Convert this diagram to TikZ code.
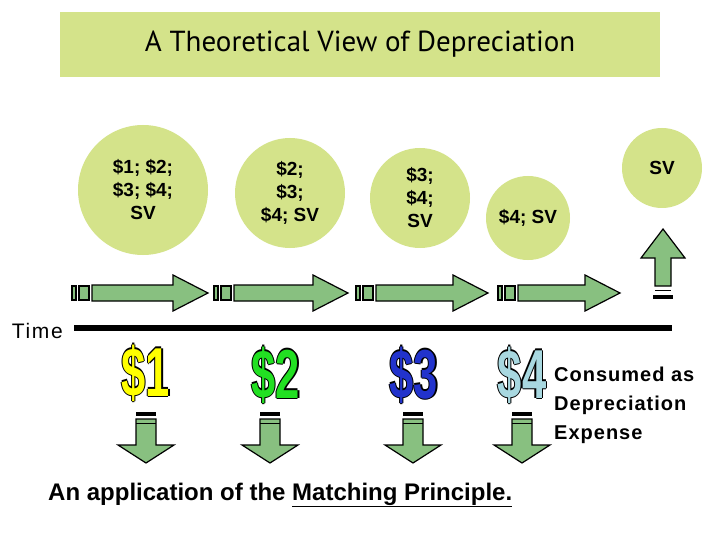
\documentclass[tikz,border=0pt]{standalone}
\usepackage{fontspec}
\setmainfont{Liberation Sans}
\newfontfamily\titlefont{PT Sans}
\definecolor{lime}{HTML}{D4E38A}
\definecolor{arr}{HTML}{88C080}
\definecolor{dyel}{HTML}{FFFF00}
\definecolor{dgrn}{HTML}{22E022}
\definecolor{dblu}{HTML}{2233CC}
\definecolor{dlbl}{HTML}{A8D8E0}
\newcommand\myrarrow[3]{% x0, xend, y
 \draw[arrstyle] (#1,#3-7) rectangle ++(4,14);
 \draw[arrstyle] (#1+7,#3-7) rectangle ++(10,14);
 \draw[arrstyle] (#1+20,#3-8) -- (#2-35,#3-8) -- (#2-35,#3-18) -- (#2,#3) -- (#2-35,#3+18) -- (#2-35,#3+8) -- (#1+20,#3+8) -- cycle;}
\newcommand\mydarrow[1]{% center x
 \fill (#1-10,412) rectangle (#1+10,416);
 \draw[arrstyle] (#1-10,419) -- (#1+10,419) -- (#1+10,445) -- (#1+28,445) -- (#1,463) -- (#1-28,445) -- (#1-10,445) -- cycle;
 \draw[line width=1pt] (#1-10,423)--(#1+10,423);}
\newcommand\mydollar[4]{% x y color text
 \foreach \dx/\dy in {-1.2/0,1.2/0,0/-1.2,0/1.2}
  {\node[dol,text=black] at (#1+\dx,#2+\dy) {#4};}
 \node[dol,text=#3] at (#1,#2) {#4};}
\begin{document}
\begin{tikzpicture}[x=1pt,y=-1pt,
 arrstyle/.style={fill=arr,draw=black,line width=1.2pt},
 circ/.style={circle,fill=lime,inner sep=0pt,align=center,font=\bfseries\fontsize{19}{23}\selectfont},
 dol/.style={font=\bfseries\fontsize{66}{66}\selectfont,xscale=0.66,yscale=1.05,inner sep=0pt}]
\useasboundingbox (0,0) rectangle (720,540);
\fill[white] (0,0) rectangle (720,540);
\node[fill=lime,minimum width=600pt,minimum height=65pt,inner sep=0pt,font=\titlefont\fontsize{29}{31}\selectfont] (title) at (360,44.5) {A Theoretical View of Depreciation};
\node[circ,minimum size=130pt] (c1) at (143,190) {\$1; \$2;\\\$3; \$4;\\SV};
\node[circ,minimum size=110pt] (c2) at (290,193) {\$2;\\\$3;\\\$4; SV};
\node[circ,minimum size=100pt] (c3) at (420,198) {\$3;\\\$4;\\SV};
\node[circ,minimum size=84pt] (c4) at (528,218) {\$4; SV};
\node[circ,minimum size=80pt] (c5) at (662,168) {SV};
\myrarrow{72}{208}{293}
\myrarrow{214}{348}{293}
\myrarrow{356}{488}{293}
\myrarrow{498}{620}{293}
% up arrow
\draw[arrstyle] (655,286) -- (655,258) -- (641,258) -- (663,229) -- (685,258) -- (671,258) -- (671,286) -- cycle;
\draw[line width=1pt] (655,290)--(671,290);
\fill (653,295) rectangle (673,299);
\node[font=\fontsize{21}{23}\selectfont,anchor=east,inner sep=0pt] (time) at (63,331) {\addfontfeature{LetterSpace=8}Time};
\draw[line width=6pt] (74,328) -- (672,328);
\mydollar{146}{373}{dyel}{\$1}
\mydollar{276}{375}{dgrn}{\$2}
\mydollar{414}{375}{dblu}{\$3}
\mydollar{522}{375}{dlbl}{\$4}
\mydarrow{146}
\mydarrow{270}
\mydarrow{413}
\mydarrow{522}
\node[anchor=north west,align=left,inner sep=0pt,font=\bfseries\fontsize{20}{29}\selectfont] (cons) at (554,367) {\addfontfeature{LetterSpace=5}Consumed as\\\addfontfeature{LetterSpace=5}Depreciation\\\addfontfeature{LetterSpace=5}Expense};
\node[anchor=west,inner sep=0pt,font=\bfseries\fontsize{24}{26}\selectfont] (app) at (48,495) {An application of the \underline{Matching Principle.}};
\end{tikzpicture}
\end{document}
